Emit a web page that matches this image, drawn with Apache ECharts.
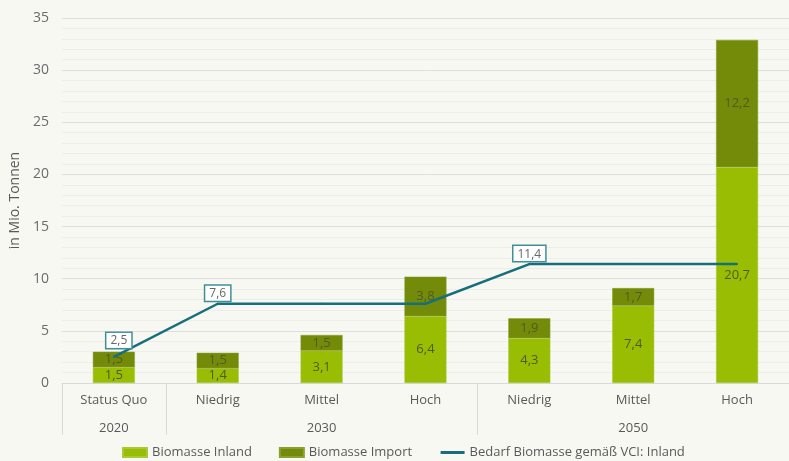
<!DOCTYPE html>
<html>
<head>
<meta charset="utf-8">
<script src="https://cdn.jsdelivr.net/npm/echarts@6/dist/echarts.min.js"></script>
<style>
  html, body { margin: 0; padding: 0; background: #f8f8f2; }
  #chart { width: 789px; height: 461px; }
</style>
</head>
<body>
<div id="chart"></div>
<script>
const scenarios = ['Status Quo', 'Niedrig', 'Mittel', 'Hoch', 'Niedrig', 'Mittel', 'Hoch']
const years = ['2020', '', '2030', '', '', '2050', '']
const inland = [1.5, 1.4, 3.1, 6.4, 4.3, 7.4, 20.7]
const importe = [1.5, 1.5, 1.5, 3.8, 1.9, 1.7, 12.2]
const bedarf = [2.5, 7.6, 7.6, 7.6, 11.4, 11.4, 11.4]
const bedarfLabelAt = [0, 1, 4]
const groupStarts = [0, 1, 4]

const FONT = '"Open Sans", sans-serif'
const comma = (v) => String(v).replace('.', ',')

const chart = echarts.init(document.getElementById('chart'))

const barLabel = {
  show: true,
  position: 'inside',
  color: '#4f5b22',
  fontSize: 13,
  fontFamily: FONT,
  formatter: (p) => comma(p.value)
}

chart.setOption({
  backgroundColor: '#f8f8f2',
  animation: false,
  grid: { left: 58, right: -8, top: 18, bottom: 78 },
  legend: {
    bottom: -3,
    left: 117,
    itemGap: 27,
    itemWidth: 24,
    itemHeight: 9,
    textStyle: { color: '#595959', fontSize: 13, fontFamily: FONT },
    data: [
      { name: 'Biomasse Inland', icon: 'rect' },
      { name: 'Biomasse Import', icon: 'rect' },
      {
        name: 'Bedarf Biomasse gemäß VCI: Inland',
        itemStyle: { opacity: 0 },
        lineStyle: { width: 3 }
      }
    ]
  },
  xAxis: [
    {
      type: 'category',
      data: scenarios,
      axisLine: { lineStyle: { color: '#d9d9d9', width: 1 } },
      axisTick: {
        show: true,
        length: 52,
        interval: (i) => groupStarts.includes(i),
        lineStyle: { color: '#d9d9d9' }
      },
      axisLabel: { color: '#595959', fontSize: 13, fontFamily: FONT, margin: 11, interval: 0 }
    },
    {
      type: 'category',
      data: years,
      position: 'bottom',
      offset: 28,
      axisLine: { show: false },
      axisTick: { show: false },
      axisLabel: { color: '#595959', fontSize: 13, fontFamily: FONT, margin: 11, interval: 0 }
    }
  ],
  yAxis: {
    type: 'value',
    min: 0,
    max: 35,
    interval: 5,
    name: 'in Mio. Tonnen',
    nameLocation: 'middle',
    nameRotate: 90,
    nameGap: 37,
    nameTextStyle: { color: '#595959', fontSize: 14, fontFamily: FONT },
    axisLine: { show: false },
    axisTick: { show: false },
    axisLabel: { color: '#6b6b6b', fontSize: 14, fontFamily: FONT, margin: 13 },
    splitLine: { lineStyle: { color: '#dedede', width: 1 } },
    minorTick: { show: false, splitNumber: 5 },
    minorSplitLine: { show: true, lineStyle: { color: '#ededea', width: 1 } }
  },
  series: [
    {
      name: 'Biomasse Inland',
      type: 'bar',
      stack: 'bio',
      barWidth: 42,
      data: inland,
      itemStyle: { color: '#99bd03', borderColor: '#a9c93a', borderWidth: 0.5 },
      label: barLabel
    },
    {
      name: 'Biomasse Import',
      type: 'bar',
      stack: 'bio',
      barWidth: 42,
      data: importe,
      itemStyle: { color: '#748b0a', borderColor: '#8aa030', borderWidth: 0.5 },
      label: barLabel
    },
    {
      name: 'Bedarf Biomasse gemäß VCI: Inland',
      type: 'line',
      z: 5,
      symbol: 'circle',
      symbolSize: 2,
      showSymbol: true,
      data: bedarf.map((v, i) => ({
        value: v,
        label: {
          show: bedarfLabelAt.includes(i),
          distance: i === 0 ? 8 : 2,
          offset: i === 0 ? [5, 0] : [0, 0]
        }
      })),
      lineStyle: { color: '#166f7b', width: 2.5 },
      itemStyle: { color: '#166f7b' },
      label: {
        show: true,
        position: 'top',
        color: '#666666',
        fontSize: 12,
        fontFamily: FONT,
        backgroundColor: '#ffffff',
        borderColor: '#3f8f9a',
        borderWidth: 1.5,
        padding: [2, 4, 1, 4],
        formatter: (p) => comma(p.value)
      }
    }
  ]
})
</script>
</body>
</html>
